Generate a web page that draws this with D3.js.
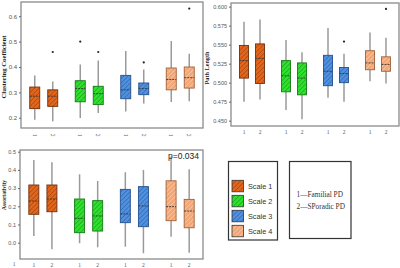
<!DOCTYPE html>
<html><head><meta charset="utf-8">
<script src="https://cdn.jsdelivr.net/npm/d3@7"></script>
<style>html,body{margin:0;padding:0;background:#fff;}svg{display:block;}</style>
</head><body>
<script>
// ---- data ----
const scales = ["Scale 1", "Scale 2", "Scale 3", "Scale 4"];
const groups = ["1", "2"];
const groupLabels = ["1\u2014Familial PD", "2\u2014SPoradic PD"];
// each entry: [min, q1, median, q3, max], order: S1-1, S1-2, S2-1, S2-2, S3-1, S3-2, S4-1, S4-2
const clusteringStats = [
  [0.192, 0.236, 0.285, 0.321, 0.367],
  [0.186, 0.245, 0.285, 0.310, 0.343],
  [0.199, 0.263, 0.315, 0.346, 0.410],
  [0.219, 0.252, 0.295, 0.324, 0.426],
  [0.225, 0.275, 0.310, 0.367, 0.463],
  [0.256, 0.291, 0.315, 0.337, 0.390],
  [0.262, 0.310, 0.351, 0.396, 0.502],
  [0.265, 0.317, 0.358, 0.400, 0.452]
];
const clusteringOutliers = [[], [0.459], [0.500], [0.459], [], [0.418], [], [0.630]];
const clusteringTicks = [0.2, 0.3, 0.4, 0.5, 0.6];

const pathStats = [
  [0.475, 0.506, 0.529, 0.549, 0.580],
  [0.478, 0.499, 0.532, 0.551, 0.583],
  [0.464, 0.488, 0.509, 0.529, 0.556],
  [0.452, 0.484, 0.506, 0.526, 0.540],
  [0.480, 0.496, 0.515, 0.536, 0.572],
  [0.475, 0.500, 0.512, 0.520, 0.538],
  [0.502, 0.517, 0.526, 0.542, 0.566],
  [0.499, 0.515, 0.524, 0.534, 0.559]
];
const pathOutliers = [[], [], [], [], [], [0.554], [], [0.597]];
const pathTicks = [0.450, 0.475, 0.500, 0.525, 0.550, 0.575, 0.600];

const assortStats = [
  [0.037, 0.156, 0.229, 0.317, 0.454],
  [-0.036, 0.170, 0.240, 0.317, 0.442],
  [-0.003, 0.055, 0.134, 0.240, 0.376],
  [-0.025, 0.064, 0.147, 0.231, 0.339],
  [-0.022, 0.110, 0.158, 0.293, 0.387],
  [-0.058, 0.088, 0.202, 0.308, 0.400],
  [0.033, 0.121, 0.198, 0.340, 0.473],
  [-0.055, 0.082, 0.174, 0.238, 0.403]
];
const assortOutliers = [[], [], [], [], [], [], [], []];
const assortTicks = [0.0, 0.1, 0.2, 0.3, 0.4, 0.5];

const fills = ["#e2661c", "#2fe02f", "#4f90df", "#f2a675"];
const stripes = ["#9a3f0c", "#169616", "#2a5ea8", "#fbd3b6"];
const strokes = ["#6e300e", "#167a16", "#24508e", "#a06038"];

// ---- drawing ----
const W = 400, H = 268;
const svg = d3.select("body").append("svg").attr("width", W).attr("height", H);
const defs = svg.append("defs");
scales.forEach((s, i) => {
  const p = defs.append("pattern").attr("id", "hatch" + i)
    .attr("patternUnits", "userSpaceOnUse").attr("width", 3.2).attr("height", 3.2)
    .attr("patternTransform", "rotate(45)");
  p.append("rect").attr("width", 3.2).attr("height", 3.2).attr("fill", fills[i]);
  p.append("line").attr("x1", 0).attr("y1", 0).attr("x2", 0).attr("y2", 3.2)
    .attr("stroke", stripes[i]).attr("stroke-width", 1.1);
});

function panel(cfg) {
  const g = svg.append("g");
  const x0 = d3.scaleBand().domain(scales).range([cfg.left, cfg.right]);
  const x1 = d3.scalePoint().domain(groups).range([0, x0.bandwidth()]).padding(cfg.innerPad);
  const y = d3.scaleLinear().domain(cfg.domain).range([cfg.bottom, cfg.top]);
  // frame
  g.append("rect").attr("x", cfg.left).attr("y", cfg.top)
    .attr("width", cfg.right - cfg.left).attr("height", cfg.bottom - cfg.top)
    .attr("fill", "none").attr("stroke", "#8a8a8a").attr("stroke-width", 1.3);
  // y axis
  const ya = g.append("g").attr("transform", `translate(${cfg.left},0)`)
    .call(d3.axisLeft(y).tickValues(cfg.ticks).tickFormat(cfg.fmt).tickSize(2).tickPadding(2));
  ya.select(".domain").remove();
  ya.selectAll("line").attr("stroke", "#666");
  ya.selectAll("text").attr("font-family", "Liberation Sans, Arial, sans-serif")
    .attr("font-size", cfg.tickFont).attr("fill", "#555");
  // x ticks labels
  const cx = (k) => x0(scales[Math.floor(k / 2)]) + x1(groups[k % 2]);
  const xl = g.append("g");
  d3.range(8).forEach(k => {
    const t = xl.append("text").text(groups[k % 2])
      .attr("font-family", "Liberation Serif, serif").attr("font-size", 5.5).attr("fill", "#555")
      .attr("text-anchor", "middle");
    if (cfg.rotate) {
      t.attr("transform", `translate(${cx(k)},${cfg.bottom + 7}) rotate(90)`).attr("dy", "0.35em");
    } else {
      t.attr("x", cx(k)).attr("y", cfg.bottom + 8);
    }
  });
  // y title
  g.append("text").text(cfg.title)
    .attr("transform", `translate(${cfg.titleX},${cfg.titleY}) rotate(-90)`)
    .attr("text-anchor", "middle").attr("font-family", "Liberation Serif, serif")
    .attr("font-weight", "bold").attr("font-size", cfg.titleSize).attr("fill", "#222")
    .attr("textLength", cfg.titleLen).attr("lengthAdjust", "spacingAndGlyphs");
  // boxes
  cfg.stats.forEach((s, k) => {
    const si = Math.floor(k / 2);
    const c = cx(k);
    const bw = cfg.boxW;
    g.append("line").attr("x1", c).attr("x2", c).attr("y1", y(s[0])).attr("y2", y(s[4]))
      .attr("stroke", "#9a9a9a").attr("stroke-width", 1.5);
    g.append("rect").attr("x", c - bw / 2).attr("y", y(s[3]))
      .attr("width", bw).attr("height", y(s[1]) - y(s[3]))
      .attr("fill", `url(#hatch${si})`).attr("stroke", strokes[si]).attr("stroke-width", 0.9);
    g.append("line").attr("x1", c - bw / 2).attr("x2", c + bw / 2).attr("y1", y(s[2])).attr("y2", y(s[2]))
      .attr("stroke", "#333").attr("stroke-width", 0.9).attr("stroke-dasharray", "2,1");
    cfg.outliers[k].forEach(o => {
      g.append("circle").attr("cx", c).attr("cy", y(o)).attr("r", 1.1).attr("fill", "#222");
    });
  });
  return g;
}

panel({left: 21, right: 203, top: 2, bottom: 128, domain: [0.1598, 0.6559],
  ticks: clusteringTicks, fmt: d3.format(".1f"), stats: clusteringStats, outliers: clusteringOutliers,
  innerPad: 0.764, boxW: 10, tickFont: 6, rotate: true,
  title: "Clustering Coefficient", titleX: 6, titleY: 67, titleSize: 6, titleLen: 63});

panel({left: 231, right: 399, top: 3, bottom: 126, domain: [0.4430, 0.6048],
  ticks: pathTicks, fmt: d3.format(".3f"), stats: pathStats, outliers: pathOutliers,
  innerPad: 0.8125, boxW: 9, tickFont: 5.5, rotate: false,
  title: "Path Length", titleX: 209, titleY: 68, titleSize: 6, titleLen: 33});

panel({left: 20, right: 203, top: 150, bottom: 259, domain: [-0.0896, 0.5093],
  ticks: assortTicks, fmt: d3.format(".1f"), stats: assortStats, outliers: assortOutliers,
  innerPad: 0.764, boxW: 10, tickFont: 5.5, rotate: false,
  title: "Assortativity", titleX: 6, titleY: 195, titleSize: 5.5, titleLen: 30});

// p-value annotation
svg.append("text").text("p=0.034").attr("x", 168).attr("y", 158.5)
  .attr("font-family", "Liberation Sans, Arial, sans-serif").attr("font-size", 9).attr("fill", "#222")
  .attr("textLength", 31).attr("lengthAdjust", "spacingAndGlyphs");
// stray label under the third panel
svg.append("text").text("1").attr("x", 14).attr("y", 266).attr("text-anchor", "middle")
  .attr("font-family", "Liberation Serif, serif").attr("font-size", 5.5).attr("fill", "#555");

// legend: scales
const lg = svg.append("g");
lg.append("rect").attr("x", 228.5).attr("y", 161.5).attr("width", 49).attr("height", 78.5)
  .attr("fill", "#fff").attr("stroke", "#333").attr("stroke-width", 1.2);
const ly = d3.scalePoint().domain(scales).range([186, 231]);
scales.forEach((s, i) => {
  lg.append("rect").attr("x", 232).attr("y", ly(s) - 5.7).attr("width", 11.5).attr("height", 11.5)
    .attr("fill", `url(#hatch${i})`).attr("stroke", "#333").attr("stroke-width", 0.8);
  lg.append("text").text(s).attr("x", 248).attr("y", ly(s)).attr("dy", "0.35em")
    .attr("font-family", "Liberation Sans, Arial, sans-serif").attr("font-size", 7.3).attr("fill", "#333");
});
// legend: groups
const lg2 = svg.append("g");
lg2.append("rect").attr("x", 289.5).attr("y", 161.5).attr("width", 61.5).attr("height", 77)
  .attr("fill", "#fff").attr("stroke", "#333").attr("stroke-width", 1.2);
groupLabels.forEach((t, i) => {
  lg2.append("text").text(t).attr("x", 296.5).attr("y", 194 + i * 12).attr("dy", "0.35em")
    .attr("font-family", "Liberation Serif, Times New Roman, serif").attr("font-size", 7.3).attr("fill", "#333");
});
</script>
</body></html>
